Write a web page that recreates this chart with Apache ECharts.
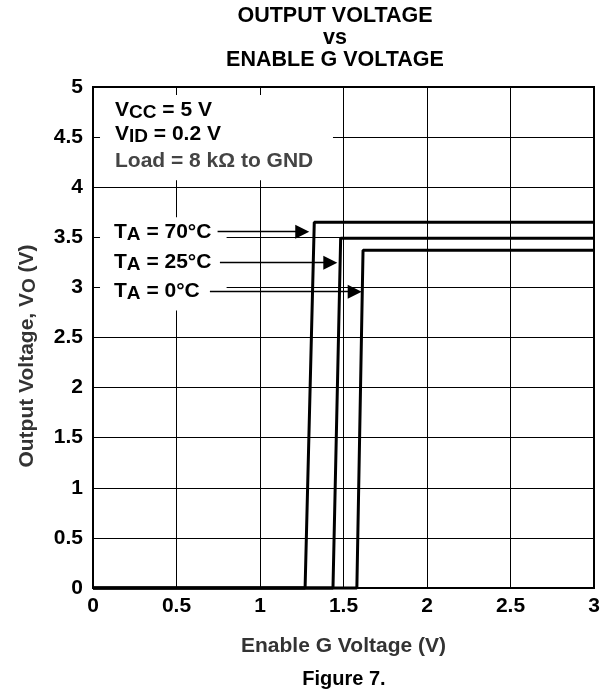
<!DOCTYPE html>
<html>
<head>
<meta charset="utf-8">
<script src="https://cdn.jsdelivr.net/npm/echarts@6/dist/echarts.min.js"></script>
<style>
html,body{margin:0;padding:0;background:#fff;}
#chart{width:610px;height:694px;}
</style>
</head>
<body>
<div id="chart"></div>
<script>
// ---- data ----
const curve70 = [[0, 0], [1.27, 0], [1.325, 3.65], [3, 3.65]];
const curve25 = [[0, 0], [1.437, 0], [1.483, 3.49], [3, 3.49]];
const curve0  = [[0, 0], [1.58, 0], [1.617, 3.37], [3, 3.37]];
// arrow lines: [y, xStart, xEnd]
const arrow70 = [3.556, 0.746, 1.253];
const arrow25 = [3.247, 0.760, 1.421];
const arrow0  = [2.957, 0.700, 1.567];
// white label boxes: [x0, y0, x1, y1]
const boxCond  = [0.042, 4.92, 1.437, 4.07];
const boxTemps = [0.042, 3.70, 0.80, 2.77];
const titleLines = ['OUTPUT VOLTAGE', 'vs', 'ENABLE G VOLTAGE'];

const F = '"Liberation Sans", Arial, Helvetica, sans-serif';
const FS = 21;
const chart = echarts.init(document.getElementById('chart'));

function rich(color) {
  return {
    m: {fontSize: FS, fontWeight: 'bold', fontFamily: F, fill: color, lineHeight: 24},
    s: {fontSize: 19, fontWeight: 'bold', fontFamily: F, fill: color, lineHeight: 12, verticalAlign: 'bottom'}
  };
}
function txt(x, y, text, color, align) {
  return {type: 'text', x: x, y: y, z: 100, silent: true,
    style: {text: text, rich: rich(color || '#000'), align: align || 'left', verticalAlign: 'middle'}};
}

const curveSeries = (d) => ({
  type: 'line', data: d, symbol: 'none', clip: false, z: 3,
  lineStyle: {color: '#000', width: 3}
});

const option = {
  animation: false,
  backgroundColor: '#fff',
  grid: {left: 93, right: 16, top: 87, bottom: 106, show: true, borderColor: '#000', borderWidth: 2},
  xAxis: {
    type: 'value', min: 0, max: 3, interval: 0.5,
    axisLine: {show: true, lineStyle: {color: '#000', width: 2}},
    axisTick: {show: false},
    splitLine: {show: true, lineStyle: {color: '#000', width: 1}},
    axisLabel: {fontSize: FS, fontWeight: 'bold', color: '#000', fontFamily: F, margin: 8},
    name: 'Enable G Voltage (V)', nameLocation: 'middle', nameGap: 48,
    nameTextStyle: {fontSize: FS, fontWeight: 'bold', color: '#333', fontFamily: F}
  },
  yAxis: {
    type: 'value', min: 0, max: 5, interval: 0.5,
    axisLine: {show: true, lineStyle: {color: '#000', width: 2}},
    axisTick: {show: false},
    splitLine: {show: true, lineStyle: {color: '#000', width: 1}},
    axisLabel: {fontSize: FS, fontWeight: 'bold', color: '#000', fontFamily: F, margin: 10}
  },
  series: [
    {
      type: 'line', data: [[0, 0]], symbol: 'none', z: 1, lineStyle: {width: 0},
      markArea: {
        silent: true, itemStyle: {color: '#fff', opacity: 1, borderWidth: 0},
        data: [boxCond, boxTemps].map(b => [{coord: [b[0], b[1]]}, {coord: [b[2], b[3]]}])
      }
    },
    curveSeries(curve70),
    curveSeries(curve25),
    curveSeries(curve0),
    {
      type: 'line', data: [[0, 0]], symbol: 'none', z: 4, lineStyle: {width: 0},
      markLine: {
        silent: true, symbol: ['none', 'triangle'], symbolSize: 14,
        label: {show: false},
        itemStyle: {color: '#000'},
        lineStyle: {color: '#000', width: 1.3, type: 'solid'},
        emphasis: {disabled: true},
        data: [arrow70, arrow25, arrow0].map(a => [{coord: [a[1], a[0]]}, {coord: [a[2], a[0]]}])
      }
    }
  ],
  graphic: [
    {type: 'text', x: 335, y: 5, z: 100, silent: true,
      style: {text: titleLines.join('\n'), font: 'bold 21.5px ' + F, fill: '#000', align: 'center', verticalAlign: 'top', lineHeight: 22}},
    txt(115, 110, '{m|V}{s|CC}{m| = 5 V}'),
    txt(115, 134, '{m|V}{s|ID}{m| = 0.2 V}'),
    txt(115, 161, '{m|Load = 8 kΩ to GND}', '#444'),
    txt(114, 232, '{m|T}{s|A}{m| = 70°C}'),
    txt(114, 262, '{m|T}{s|A}{m| = 25°C}'),
    txt(114, 291, '{m|T}{s|A}{m| = 0°C}'),
    {type: 'text', x: 27, y: 356, z: 100, silent: true, rotation: Math.PI / 2,
      style: {text: '{m|Output Voltage, V}{s|O}{m| (V)}', rich: rich('#333'), align: 'center', verticalAlign: 'middle'}},
    {type: 'text', x: 344, y: 679, z: 100, silent: true,
      style: {text: 'Figure 7.', font: 'bold 20px ' + F, fill: '#000', align: 'center', verticalAlign: 'middle'}}
  ]
};
chart.setOption(option);
</script>
</body>
</html>
